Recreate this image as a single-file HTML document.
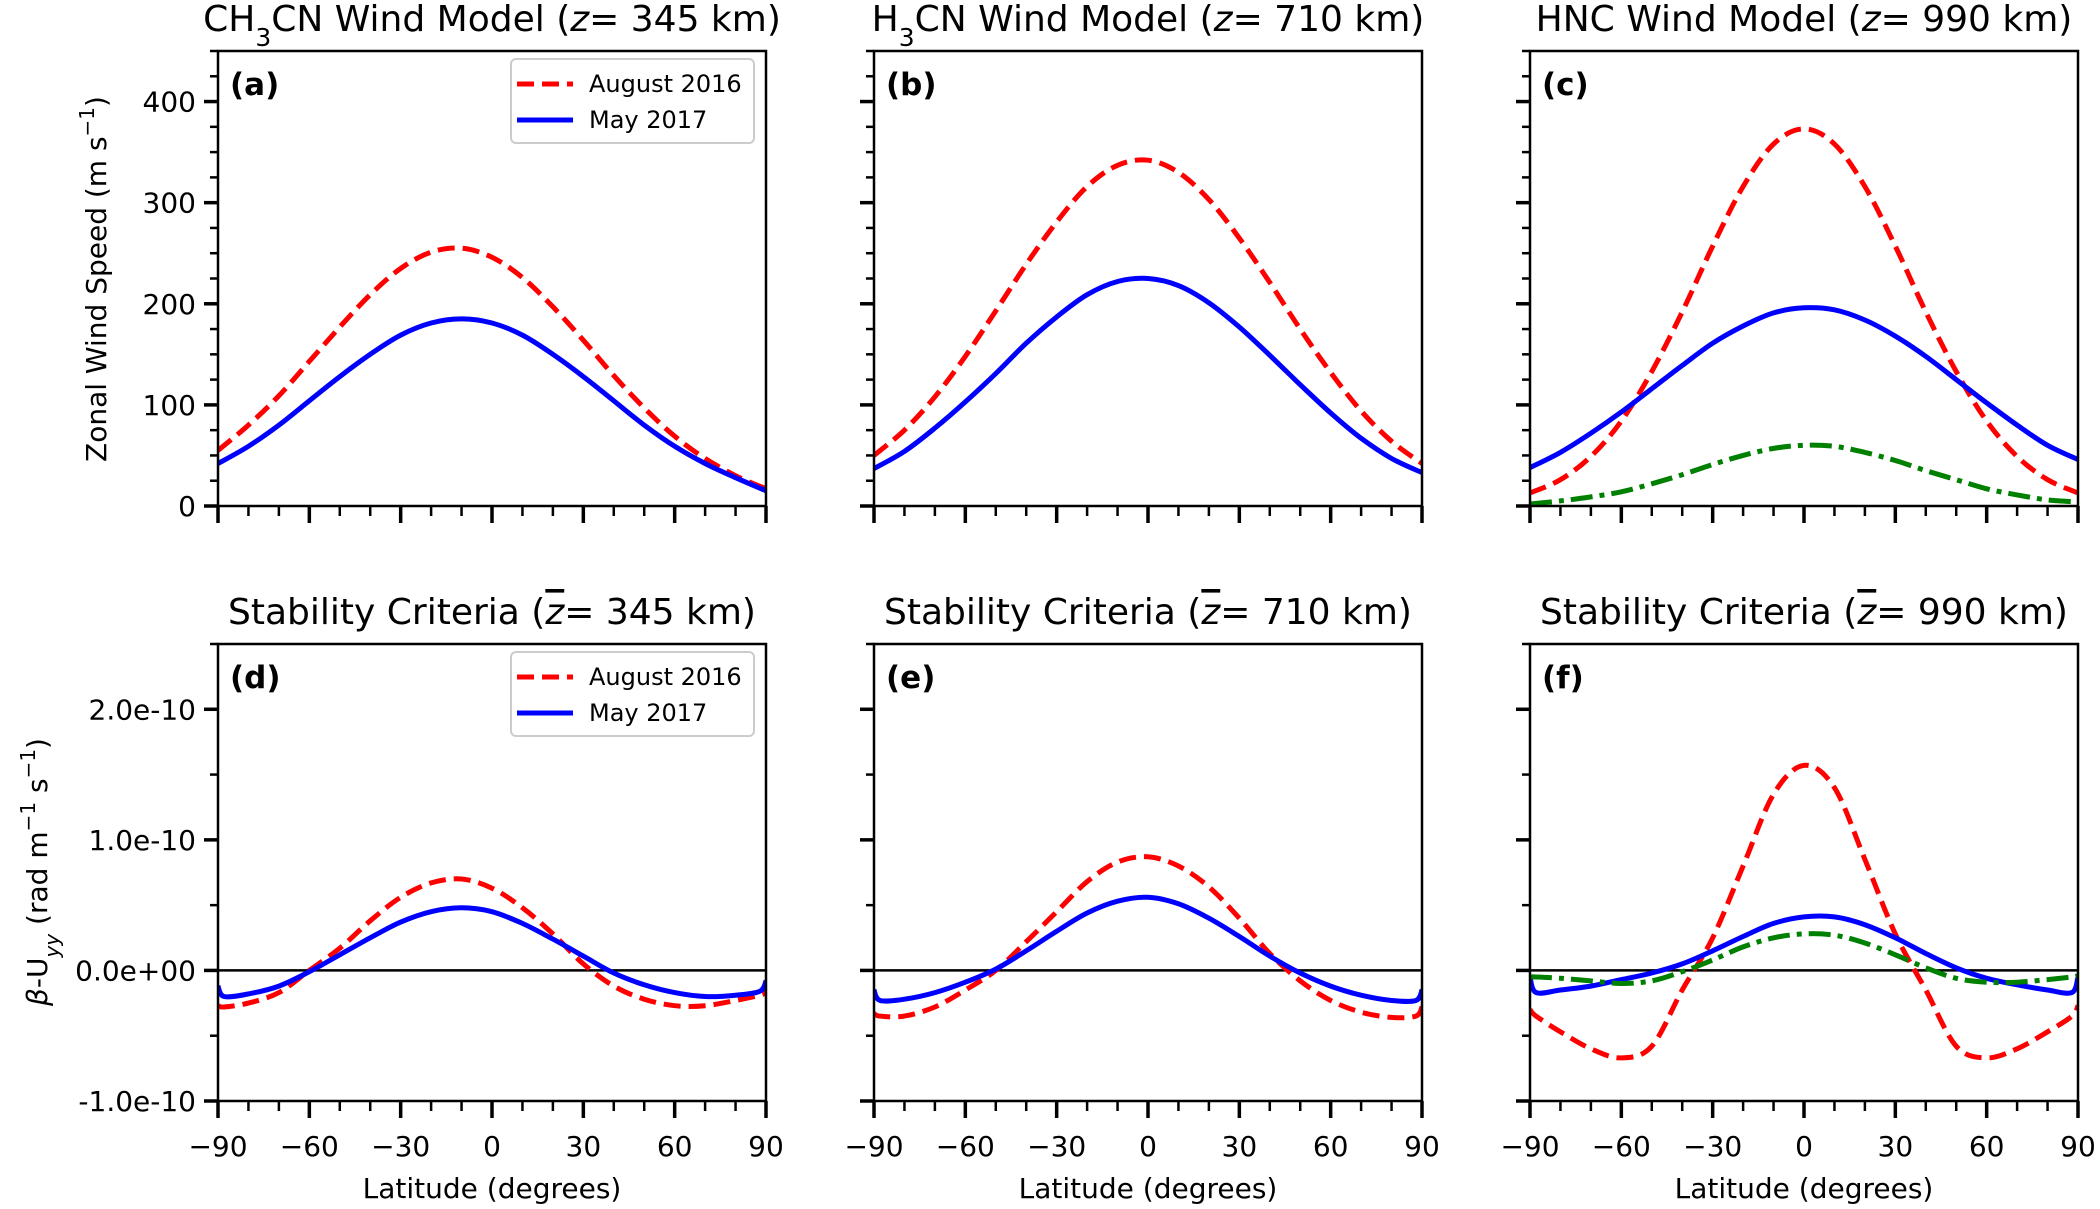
<!DOCTYPE html>
<html><head><meta charset="utf-8">
<style>
html,body{margin:0;padding:0;background:#fff;}
svg{display:block;font-family:"DejaVu Sans","Liberation Sans",sans-serif;}
</style></head>
<body>
<svg id="fig" width="2100" height="1209" viewBox="0 0 2100 1209" xmlns="http://www.w3.org/2000/svg"></svg>
<script>
// ---- data ----
const latTop = [-90,-80,-70,-60,-50,-40,-30,-20,-10,0,10,20,30,40,50,60,70,80,90];
const aAug = [55,80,109,143,177,209,235,251,255,246,226,197,164,129,97,69,47,30,17];
const aMay = [42,59,80,104,128,150,169,181,185,181,169,150,128,104,80,59,42,28,15];
const bAug = [50,75,108,148,193,239,281,316,337,342,330,303,265,221,175,132,94,64,42];
const bMay = [37,54,77,103,131,161,187,209,222,225,218,201,177,149,120,92,67,47,33];
const cAug = [13,26,49,84,133,192,257,316,358,373,358,316,257,192,133,84,49,26,13];
const cMay = [38,53,72,93,116,139,161,178,191,196,194,184,168,148,125,102,80,60,46];
const cOther = [2,5,9,14,22,31,41,50,57,60,59,53,45,35,26,17,11,6,4];
const latBot = [-90,-88,-80,-70,-60,-50,-40,-30,-20,-10,0,10,20,30,40,50,60,70,80,88,90];
const dAug = [-0.27,-0.28,-0.25,-0.17,0.0,0.17,0.38,0.56,0.67,0.70,0.63,0.48,0.28,0.05,-0.12,-0.22,-0.27,-0.27,-0.23,-0.19,-0.17];
const dMay = [-0.12,-0.20,-0.18,-0.12,-0.01,0.12,0.25,0.37,0.45,0.48,0.45,0.36,0.24,0.11,-0.02,-0.11,-0.17,-0.20,-0.19,-0.16,-0.08];
const eAug = [-0.33,-0.35,-0.35,-0.28,-0.15,0.0,0.22,0.45,0.68,0.83,0.87,0.80,0.64,0.40,0.13,-0.08,-0.23,-0.32,-0.36,-0.35,-0.28];
const eMay = [-0.15,-0.23,-0.22,-0.17,-0.09,0.01,0.15,0.30,0.44,0.53,0.56,0.51,0.40,0.26,0.11,-0.02,-0.12,-0.19,-0.23,-0.23,-0.15];
const fAug = [-0.30,-0.35,-0.47,-0.60,-0.67,-0.58,-0.15,0.25,0.80,1.35,1.57,1.40,0.85,0.28,-0.15,-0.58,-0.67,-0.60,-0.47,-0.35,-0.27];
const fMay = [-0.05,-0.17,-0.15,-0.12,-0.07,-0.02,0.05,0.15,0.26,0.36,0.41,0.41,0.35,0.25,0.13,0.02,-0.06,-0.11,-0.15,-0.17,-0.05];
const fOther = [-0.05,-0.05,-0.06,-0.08,-0.10,-0.08,-0.01,0.08,0.18,0.25,0.28,0.27,0.21,0.12,0.02,-0.06,-0.09,-0.09,-0.07,-0.05,-0.04];
const xTicks = [-90,-60,-30,0,30,60,90];
const xTickLabels = ["\u221290","\u221260","\u221230","0","30","60","90"];
const topYTicks = [0,100,200,300,400];
const topYLabels = ["0","100","200","300","400"];
const botYTicks = [-1,0,1,2];
const botYLabels = ["-1.0e-10","0.0e+00","1.0e-10","2.0e-10"];
const legendLabels = ["August 2016","May 2017"];

// ---- layout ----
const NS="http://www.w3.org/2000/svg";
const svg=document.getElementById('fig');
function mk(tag,attrs,parent){const e=document.createElementNS(NS,tag);for(const k in attrs)e.setAttribute(k,attrs[k]);(parent||svg).appendChild(e);return e;}
const colsX=[218,874,1530], W=548;
const rows=[{top:51,bot:506,ymin:0,ymax:450,major:topYTicks,labels:topYLabels,minorStep:25},
            {top:644,bot:1101,ymin:-1,ymax:2.5,major:botYTicks,labels:botYLabels,minorStep:0.5}];
const ZB="<tspan font-style='italic' text-decoration='overline'>z</tspan>";
const titles=[["CH<tspan baseline-shift='sub' font-size='25'>3</tspan>CN Wind Model ("+ZB+"= 345 km)","H<tspan baseline-shift='sub' font-size='25'>3</tspan>CN Wind Model ("+ZB+"= 710 km)","HNC Wind Model ("+ZB+"= 990 km)"],
  ["Stability Criteria ("+ZB+"= 345 km)","Stability Criteria ("+ZB+"= 710 km)","Stability Criteria ("+ZB+"= 990 km)"]];
const panelLetters=[["(a)","(b)","(c)"],["(d)","(e)","(f)"]];
const series=[[[aAug,aMay],[bAug,bMay],[cAug,cMay,cOther]],[[dAug,dMay],[eAug,eMay],[fAug,fMay,fOther]]];
const styles=[{stroke:"#ff0000",dash:"17 8",name:"august-2016"},{stroke:"#0000ff",dash:"",name:"may-2017"},{stroke:"#008000",dash:"22 7 5 7",name:"third-series"}];

function pathFrom(pts){
  let d="M"+pts[0][0].toFixed(1)+","+pts[0][1].toFixed(1);
  for(let i=0;i<pts.length-1;i++){
    const p0=pts[Math.max(0,i-1)],p1=pts[i],p2=pts[i+1],p3=pts[Math.min(pts.length-1,i+2)];
    const c1=[p1[0]+(p2[0]-p0[0])/6,p1[1]+(p2[1]-p0[1])/6];
    const c2=[p2[0]-(p3[0]-p1[0])/6,p2[1]-(p3[1]-p1[1])/6];
    d+=" C"+c1[0].toFixed(1)+","+c1[1].toFixed(1)+" "+c2[0].toFixed(1)+","+c2[1].toFixed(1)+" "+p2[0].toFixed(1)+","+p2[1].toFixed(1);
  }
  return d;
}

rows.forEach((r,ri)=>{
  colsX.forEach((x0,ci)=>{
    const g=mk('g',{});
    
    
    const xs=v=>x0+(v+90)/180*W;
    const ys=v=>r.bot-(v-r.ymin)/(r.ymax-r.ymin)*(r.bot-r.top);
    const t=mk('text',{x:x0+W/2,y:r.top-20,'text-anchor':'middle','font-size':36,fill:'#000'},g);
    t.innerHTML=titles[ri][ci];
    
    
    const cid='clip'+ri+ci;
    const cp=mk('clipPath',{id:cid},g);mk('rect',{x:x0,y:r.top,width:W,height:r.bot-r.top},cp);
    if(ri===1){const zl=mk('line',{x1:x0,x2:x0+W,y1:ys(0),y2:ys(0),stroke:'#000','stroke-width':2.5},g);
      
      }
    const lats=ri===0?latTop:latBot;
    series[ri][ci].forEach((vals,si)=>{
      const pts=lats.map((la,i)=>[xs(la),ys(vals[i])]);
      const p=mk('path',{d:pathFrom(pts),fill:'none',stroke:styles[si].stroke,'stroke-width':5,'clip-path':'url(#'+cid+')'},g);
      if(styles[si].dash)p.setAttribute('stroke-dasharray',styles[si].dash);
      
      
    });
    const fr=mk('rect',{x:x0,y:r.top,width:W,height:r.bot-r.top,fill:'none',stroke:'#000','stroke-width':2.5},g);
    
    
    for(let v=r.ymin;v<=r.ymax+1e-9;v+=r.minorStep){
      const isMaj=r.major.some(m=>Math.abs(m-v)<1e-9);
      const tk=mk('line',{x1:x0-(isMaj?14:8),x2:x0,y1:ys(v),y2:ys(v),stroke:'#000','stroke-width':isMaj?3.5:2.5},g);
      
      
    }
    if(ci===0){
      r.major.forEach((v,i)=>{
        const tl=mk('text',{x:x0-22,y:ys(v)+10,'text-anchor':'end','font-size':28,fill:'#000'},g);
        tl.textContent=r.labels[i];
        
        
      });
    }
    for(let v=-90;v<=90;v+=10){
      const isMaj=xTicks.includes(v);
      const tk=mk('line',{x1:xs(v),x2:xs(v),y1:r.bot,y2:r.bot+(isMaj?17:10),stroke:'#000','stroke-width':isMaj?3.5:2.5},g);
      
      
    }
    if(ri===1){
      xTicks.forEach((v,i)=>{
        const tl=mk('text',{x:xs(v),y:r.bot+55,'text-anchor':'middle','font-size':28,fill:'#000'},g);
        tl.textContent=xTickLabels[i];
        
        
      });
      const xl=mk('text',{x:x0+W/2,y:r.bot+97,'text-anchor':'middle','font-size':28,fill:'#000'},g);
      xl.textContent='Latitude (degrees)';
      
      
    }
    const pl=mk('text',{x:x0+12,y:r.top+44,'font-size':31,'font-weight':'bold',fill:'#000'},g);
    pl.textContent=panelLetters[ri][ci];
    
    
    if(ci===0){
      const lg=mk('g',{},g);
      
      
      const ly=r.top+8;
      mk('rect',{x:511,y:ly,width:243,height:84,rx:5,fill:'#fff',stroke:'#cccccc','stroke-width':2},lg);
      legendLabels.forEach((lab,i)=>{
        const yy=ly+25+i*36;
        const ln=mk('line',{x1:517,x2:573,y1:yy,y2:yy,stroke:styles[i].stroke,'stroke-width':5},lg);
        if(styles[i].dash)ln.setAttribute('stroke-dasharray',styles[i].dash);
        
        
        const lt=mk('text',{x:589,y:yy+8,'font-size':24,fill:'#000'},lg);
        lt.textContent=lab;
        
        
      });
    }
  });
});
const yt1=mk('text',{x:0,y:0,'text-anchor':'middle','font-size':28,fill:'#000',transform:'translate(106,279) rotate(-90)'});
yt1.innerHTML="Zonal Wind Speed (m s<tspan baseline-shift='super' font-size='20'>\u22121</tspan>)";


const yt2=mk('text',{x:0,y:0,'text-anchor':'middle','font-size':28,fill:'#000',transform:'translate(47,872) rotate(-90)'});
yt2.innerHTML="<tspan font-style='italic'>\u03b2</tspan>-U<tspan baseline-shift='sub' font-size='20' font-style='italic'>yy</tspan> (rad m<tspan baseline-shift='super' font-size='20'>\u22121</tspan> s<tspan baseline-shift='super' font-size='20'>\u22121</tspan>)";


</script>
</body></html>
